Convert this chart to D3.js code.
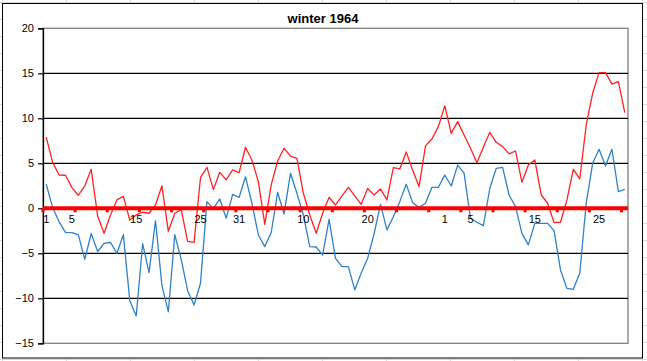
<!DOCTYPE html>
<html>
<head>
<meta charset="utf-8">
<script src="https://cdn.jsdelivr.net/npm/d3@7"></script>
<style>
  html, body { margin: 0; padding: 0; background: #fff; }
  svg { display: block; }
  text { font-family: "Liberation Sans", Arial, sans-serif; }
</style>
</head>
<body>
<svg id="chart" width="647" height="361"></svg>
<script>
// ---- data ----
const title = "winter 1964";
const months = ["Dec", "Jan", "Feb"];
const monthDays = [31, 31, 29];
const categories = [];
months.forEach((m, k) => { for (let d = 1; d <= monthDays[k]; d++) categories.push(m + " " + d); });

const redSeries = [
  7.9, 5.1, 3.7, 3.67, 2.3, 1.45, 2.5, 4.33, -0.85, -2.78,
  -0.74, 0.93, 1.33, -1.3, -0.74, -0.44, -0.55, 0.37, 2.5, -2.56,
  -0.55, -0.15, -3.67, -3.78, 3.4, 4.55, 2.1, 4.0, 3.15, 4.26,
  3.95, 6.78, 5.37, 2.96, -1.78, 2.6, 5.26, 6.67, 5.8, 5.56,
  1.67, -0.74, -2.78, -0.55, 1.22, 0.37, 1.37, 2.33, 1.37, 0.44,
  2.2, 1.48, 2.15, 0.93, 4.52, 4.37, 6.26, 4.26, 2.4, 6.93,
  7.7, 9.07, 11.4, 8.33, 9.63, 8.15, 6.67, 5.07, 6.78, 8.44,
  7.33, 6.85, 6.04, 6.37, 2.9, 4.8, 5.37, 1.48, 0.56, -1.6,
  -1.55, 0.93, 4.33, 3.26, 9.26, 12.78, 15.07, 15.07, 13.8, 14.07,
  10.63
];
const blueSeries = [
  2.67, 0.1, -1.5, -2.67, -2.7, -2.96, -5.67, -2.8, -4.8, -3.9,
  -3.8, -5.0, -2.93, -10.26, -11.96, -3.93, -7.15, -1.37, -8.6, -11.5,
  -2.93, -5.67, -9.15, -10.74, -8.33, 0.74, -0.04, 1.04, -1.1, 1.55,
  1.2, 3.5, 0.56, -2.96, -4.26, -2.7, 1.78, -0.63, 3.9, 1.67,
  -0.74, -4.26, -4.3, -5.2, -1.22, -5.56, -6.48, -6.48, -9.07, -7.2,
  -5.56, -2.85, 0.44, -2.4, -0.93, 0.74, 2.67, 0.63, 0.1, 0.56,
  2.33, 2.33, 3.7, 2.48, 4.8, 3.9, -1.1, -1.55, -1.93, 2.2,
  4.44, 4.55, 1.48, 0.19, -2.78, -4.07, -1.67, -1.67, -1.67, -2.48,
  -6.85, -8.9, -9.0, -7.2, 0.56, 5.0, 6.56, 4.7, 6.56, 1.85,
  2.1
];
const yTicks = [-15, -10, -5, 0, 5, 10, 15, 20];
const labelledDays = ["Dec 1", "Dec 5", "Dec 15", "Dec 25", "Dec 31", "Jan 10", "Jan 20", "Feb 1", "Feb 5", "Feb 15", "Feb 25"];
const labelText = ["1", "5", "15", "25", "31", "10", "20", "1", "5", "15", "25"];

// ---- layout ----
const W = 647, H = 361;
const plot = { left: 43, right: 628, top: 28.3, bottom: 343.3 };
const svg = d3.select("#chart");

// spreadsheet background grid
const bg = svg.append("g").attr("stroke", "#d9d9d9").attr("stroke-width", 1);
for (let x = 2.5; x < W; x += 64) bg.append("line").attr("x1", x).attr("x2", x).attr("y1", 0).attr("y2", H);
for (let y = 2.5; y < H; y += 17) bg.append("line").attr("x1", 0).attr("x2", W).attr("y1", y).attr("y2", y);

// chart area
svg.append("rect").attr("x", 2.5).attr("y", 3.5).attr("width", 640).attr("height", 354.5)
  .attr("fill", "#fff").attr("stroke", "#000").attr("stroke-width", 1);

const x = d3.scaleBand().domain(categories).range([plot.left, plot.right]).paddingInner(0).paddingOuter(0);
const y = d3.scaleLinear().domain([-15, 20]).range([plot.bottom, plot.top]);
const cx = d => x(d) + x.bandwidth() / 2;

// plot border
svg.append("rect").attr("x", plot.left).attr("y", plot.top).attr("width", plot.right - plot.left)
  .attr("height", plot.bottom - plot.top).attr("fill", "none").attr("stroke", "#808080").attr("stroke-width", 1.3);

// gridlines
svg.append("g").selectAll("line").data(yTicks.filter(v => v !== 20 && v !== -15)).join("line")
  .attr("x1", plot.left).attr("x2", plot.right)
  .attr("y1", d => y(d)).attr("y2", d => y(d))
  .attr("stroke", "#000").attr("stroke-width", 1.2);

// y axis
const yAxis = svg.append("g").attr("transform", `translate(${plot.left},0)`)
  .call(d3.axisLeft(y).tickValues(yTicks).tickSize(5).tickPadding(4).tickFormat(d3.format("d")));
yAxis.select(".domain").attr("stroke", "#000").attr("stroke-width", 1.3);
yAxis.selectAll(".tick line").attr("stroke", "#000").attr("stroke-width", 1.2);
yAxis.selectAll("text").attr("font-size", 11).attr("fill", "#000")
  .attr("font-family", "'Liberation Sans', Arial, sans-serif");

// lines
const line = d3.line().x((d, i) => cx(categories[i])).y(d => y(d));
svg.append("path").datum(blueSeries).attr("d", line).attr("fill", "none")
  .attr("stroke", "#2e82c8").attr("stroke-width", 1.3).attr("stroke-linejoin", "round");
svg.append("path").datum(redSeries).attr("d", line).attr("fill", "none")
  .attr("stroke", "#ff2222").attr("stroke-width", 1.3).attr("stroke-linejoin", "round");

// x axis (thick red at zero) with ticks every 5 categories
const y0 = y(0);
svg.append("line").attr("x1", plot.left).attr("x2", plot.right).attr("y1", y0).attr("y2", y0)
  .attr("stroke", "#ff0000").attr("stroke-width", 4);
const tickIdx = d3.range(0, categories.length, 5);
svg.append("g").selectAll("rect").data(tickIdx).join("rect")
  .attr("x", i => x(categories[i]) - 1.5).attr("y", y0).attr("width", 3).attr("height", 4)
  .attr("fill", "#ff0000");

const xAxis = svg.append("g").attr("transform", `translate(0,${y0})`)
  .call(d3.axisBottom(x).tickValues(labelledDays).tickSize(0).tickPadding(7)
    .tickFormat(d => labelText[labelledDays.indexOf(d)]));
xAxis.select(".domain").remove();
xAxis.selectAll("text").attr("font-size", 11).attr("fill", "#000")
  .attr("font-family", "'Liberation Sans', Arial, sans-serif");

// title
svg.append("text").attr("x", 323).attr("y", 23).attr("text-anchor", "middle")
  .attr("font-size", 13).attr("font-weight", "bold").text(title);
</script>
</body>
</html>
